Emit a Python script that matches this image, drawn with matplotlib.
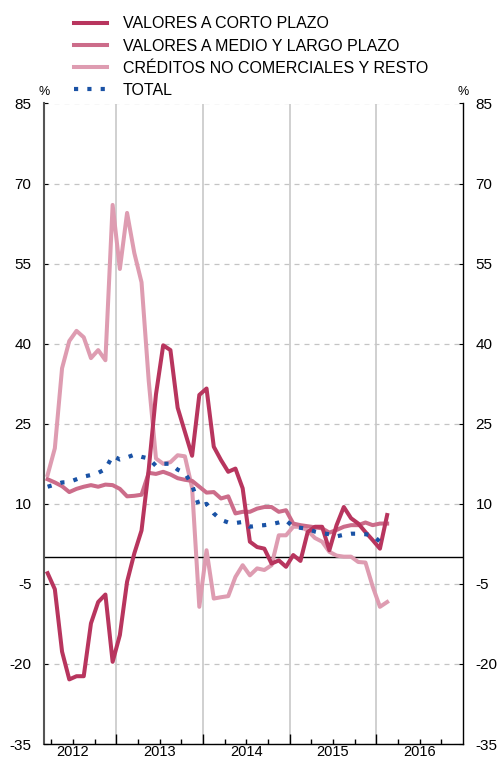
import matplotlib
matplotlib.use("Agg")
import matplotlib.pyplot as plt
import numpy as np

plt.rcParams["font.family"] = ["Liberation Sans", "DejaVu Sans"]

# --- Data (monthly, March 2012 onwards) ---
corto = [-3, -6, -17.7, -22.9, -22.3, -22.3, -12.4, -8.4, -7, -19.6, -14.6, -4.6,
         0.7, 5, 16.5, 30.5, 39.7, 38.8, 28, 23.5, 19, 30.4, 31.6, 20.7,
         18.2, 16, 16.6, 12.9, 2.9, 1.9, 1.6, -1.2, -0.6, -1.8, 0.4, -0.7,
         4.7, 5.7, 5.7, 1.3, 6, 9.4, 7.3, 6.3, 4.7, 3.2, 1.6, 7.9]
medio_largo = [14.6, 14, 13.3, 12.2, 12.8, 13.2, 13.5, 13.2, 13.6, 13.5, 12.8, 11.4,
               11.5, 11.7, 15.8, 15.6, 16, 15.5, 14.8, 14.5, 14.3, 13.2, 12.1, 12.2,
               11, 11.4, 8.2, 8.5, 8.5, 9.1, 9.4, 9.4, 8.5, 8.8, 6.3, 6,
               5.8, 5.6, 5.4, 4.6, 5.1, 5.7, 6, 6, 6.5, 6, 6.3, 6.3]
creditos = [15.4, 20.4, 35.4, 40.5, 42.4, 41.2, 37.3, 38.8, 36.9, 66, 54, 64.5,
            57, 51.5, 33, 18.5, 17.5, 17.8, 19.1, 18.9, 13, -9.3, 1.3, -7.75,
            -7.5, -7.3, -3.7, -1.5, -3.4, -2.1, -2.4, -1.5, 4.1, 4.1, 5.7, 5.7,
            5, 3.6, 2.9, 1, 0.3, 0.1, 0.1, -0.9, -1, -5.5, -9.3, -8.4]
total = [13.2, 13.6, 14, 14.1, 14.6, 15.1, 15.4, 15.8, 16.5, 19, 18.3, 18.7,
         19.2, 18.8, 18.5, 17.1, 17.5, 17.5, 16.4, 15.8, 13.5, 9.4, 10, 8.2,
         7, 6.5, 6.4, 6.6, 5.7, 5.9, 6, 6.2, 6.5, 6.9, 5.7, 5.5,
         5.3, 4.8, 4.5, 4.3, 3.9, 4.2, 4.4, 4.4, 4.3, 4.1, 2.9]

labels = ["VALORES A CORTO PLAZO", "VALORES A MEDIO Y LARGO PLAZO",
          "CRÉDITOS NO COMERCIALES Y RESTO", "TOTAL"]
years = [2012, 2013, 2014, 2015, 2016]
yticks = [-35, -20, -5, 10, 25, 40, 55, 70, 85]

C_DARK = "#B8355E"
C_MED = "#CC6C8A"
C_LIGHT = "#DE9CB1"
C_BLUE = "#1A52A5"


def month_x(n):
    # mid-month positions starting in March 2012
    return 2012 + (2.5 + np.arange(n)) / 12


fig = plt.figure(figsize=(4.98, 7.61), dpi=100)
ax = fig.add_axes([44 / 498, 17 / 761, 419 / 498, 640.5 / 761])

# grid
for y in yticks:
    ax.axhline(y, color="#c4c4c4", lw=0.9, ls=(0, (4, 4)), zorder=0)
for yr in years[1:]:
    ax.axvline(yr, color="#c8c8c8", lw=1.2, zorder=0)
ax.axhline(0, color="black", lw=1.0, zorder=1)

lw = 2.9
l3, = ax.plot(month_x(len(creditos)), creditos, color=C_LIGHT, lw=lw, zorder=2)
l2, = ax.plot(month_x(len(medio_largo)), medio_largo, color=C_MED, lw=lw, zorder=3)
l1, = ax.plot(month_x(len(corto)), corto, color=C_DARK, lw=lw, zorder=4)
l4, = ax.plot(month_x(len(total)), total, color=C_BLUE, lw=3.0,
              ls=(0, (1, 2.2)), zorder=5)

ax.set_xlim(2012 + 2 / 12, 2017)
ax.set_ylim(-35, 85)

# spines
ax.spines["top"].set_visible(False)
ax.spines["left"].set_color("#555555")
ax.spines["left"].set_linewidth(1.5)
ax.spines["right"].set_color("black")
ax.spines["right"].set_linewidth(1.0)
ax.spines["bottom"].set_linewidth(1.0)

# y ticks both sides
ax.set_yticks(yticks)
ax.set_yticklabels([str(v) for v in yticks])
ax.tick_params(axis="y", which="both", direction="in", length=3, left=True,
               right=True, labelleft=True, labelright=True, labelsize=11, pad=9)

# x ticks: year boundaries + quarters, labels centered in year
ax.set_xticks(years[1:])
ax.set_xticklabels([])
ax.set_xticks([y + q / 4 for y in years for q in (1, 2, 3)], minor=True)
ax.tick_params(axis="x", which="major", direction="in", length=7, width=1)
ax.tick_params(axis="x", which="minor", direction="in", length=3.5, width=1)
for yr in years:
    ax.text(yr + 0.5, -0.002, str(yr), transform=ax.get_xaxis_transform(),
            ha="center", va="top", fontsize=10.5)

ax.text(0, 1.008, "%", transform=ax.transAxes, ha="center", va="bottom", fontsize=9)
ax.text(1, 1.008, "%", transform=ax.transAxes, ha="center", va="bottom", fontsize=9)

fig.legend([l1, l2, l3, l4], labels, loc="upper left",
           bbox_to_anchor=(74 / 498, 1 - 16.5 / 761), frameon=False,
           fontsize=11.5, handlelength=2.05, handletextpad=1.0,
           labelspacing=0.44, borderpad=0, borderaxespad=0)

fig.savefig("out.png", dpi=100)
